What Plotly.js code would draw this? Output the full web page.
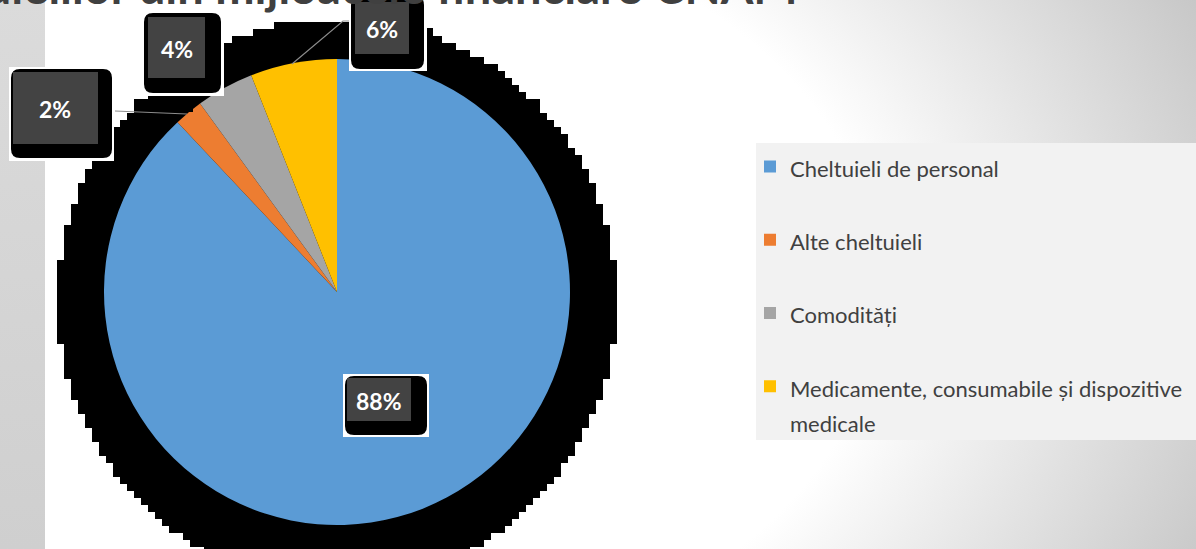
<!DOCTYPE html>
<html><head><meta charset="utf-8">
<script src="https://cdn.plot.ly/plotly-3.0.1.min.js"></script>
<style>
html,body{margin:0;padding:0;}
body{width:1196px;height:549px;overflow:hidden;
background: linear-gradient(to bottom,#dbdbdb,#cfcfcf) 0 0/45px 100% no-repeat,
 radial-gradient(ellipse 1000px 700px at 330px 290px, #ffffff 55%, #c2c2c2 100%);}
#chart{width:1196px;height:549px;}
</style></head><body><div id="chart"></div>
<script>
// ---- data ----
const categories = ['Cheltuieli de personal', 'Alte cheltuieli', 'Comodități', 'Medicamente, consumabile și dispozitive medicale'];
const values = [88, 2, 4, 6];
const colors = ['#5B9BD5', '#ED7D31', '#A5A5A5', '#FFC000'];
const titleText = 'Structura cheltuielilor din mijloacele financiare CNAM';

// ---- helpers (layout only) ----
const W = 1196, H = 549;
const X = p => p / W, Y = p => 1 - p / H;

function wrap(s, n) {
  if (s.length <= n) return [s];
  const cut = s.lastIndexOf(' ', n);
  return [s.slice(0, cut), s.slice(cut + 1)];
}
const legendLabels = categories.map(c => {
  const lines = wrap(c, 40).map(l => '<span style="font-size:22px">' + l + '</span>');
  if (lines.length < 2) lines.push(' ');
  return lines.join('<br>');
});

function rect(b, fill, layer) {
  return {type: 'rect', xref: 'paper', yref: 'paper', x0: X(b[0]), y0: Y(b[1]), x1: X(b[2]), y1: Y(b[3]),
    fillcolor: fill, line: {width: 0}, layer: layer || 'above'};
}
function rrect(b, r, fill) {
  const [x0, y0, x1, y1] = b;
  const P = (x, y) => X(x) + ',' + Y(y);
  const d = 'M' + P(x0 + r, y0) + ' L' + P(x1 - r, y0) + ' Q' + P(x1, y0) + ' ' + P(x1, y0 + r) +
    ' L' + P(x1, y1 - r) + ' Q' + P(x1, y1) + ' ' + P(x1 - r, y1) +
    ' L' + P(x0 + r, y1) + ' Q' + P(x0, y1) + ' ' + P(x0, y1 - r) +
    ' L' + P(x0, y0 + r) + ' Q' + P(x0, y0) + ' ' + P(x0 + r, y0) + ' Z';
  return {type: 'path', xref: 'paper', yref: 'paper', path: d, fillcolor: fill, line: {width: 0}, layer: 'above'};
}
function stairShadow(cx, cy, r, s) {
  const right = [], left = [];
  for (let y = cy - r; y < cy + r; y += s) {
    const ya = y, yb = y + s;
    const near = (ya <= cy && yb >= cy) ? 0 : Math.min(Math.abs(ya - cy), Math.abs(yb - cy));
    const hw = Math.round(Math.sqrt(Math.max(0, r * r - near * near)) / s) * s;
    right.push([cx + hw, ya], [cx + hw, yb]);
    left.push([cx - hw, ya], [cx - hw, yb]);
  }
  const pts = right.concat(left.reverse());
  const d = 'M' + pts.map(p => X(p[0]) + ',' + Y(p[1])).join(' L') + ' Z';
  return {type: 'path', xref: 'paper', yref: 'paper', path: d, fillcolor: '#000000', line: {width: 0}, layer: 'below'};
}

// label boxes (88%, 2%, 4%, 6%) : white frame, black rounded shadow, dark face
const boxes = [
  {w: [343, 374, 429, 437], k: [345, 376, 427, 435], g: [347, 378, 411, 421]},
  {w: [9, 67, 114, 161], k: [11, 69, 112, 158], g: [13, 72, 98, 144]},
  {w: [142, 11, 224, 96], k: [144, 13, 221, 93], g: [148, 17, 205, 78]},
  {w: [349, -4, 427, 71], k: [351, -4, 424, 69], g: [355, 2, 409, 54]}
];

const shapes = [];
shapes.push(rect([756, 143, 1196, 440], '#f2f2f2', 'below'));
shapes.push(stairShadow(337, 301, 279, 7));
shapes.push(rect([426, 28, 433, 42], '#000000', 'below'));
// leader lines
shapes.push({type: 'path', xref: 'paper', yref: 'paper', path: 'M' + X(115) + ',' + Y(111) + ' L' + X(187) + ',' + Y(114),
  line: {color: '#8c8c8c', width: 1.2}, layer: 'above'});
shapes.push({type: 'path', xref: 'paper', yref: 'paper', path: 'M' + X(292) + ',' + Y(64) + ' L' + X(343) + ',' + Y(21) + ' L' + X(349) + ',' + Y(21),
  line: {color: '#8c8c8c', width: 1.2}, layer: 'above'});
// stray shadow pieces
shapes.push(rect([170, 95, 193, 112], '#000000'));
shapes.push(rect([139, 117, 143, 131], '#000000'));
shapes.push(rect([113, 128, 118, 160], '#000000'));

const total = values.reduce((a, b) => a + b, 0);
const annotations = [];
// title (top part lies above the page, as in the reference)
annotations.push({
  xref: 'paper', yref: 'paper', x: X(800), y: Y(16.5), xanchor: 'right', yanchor: 'bottom',
  showarrow: false, text: titleText,
  font: {family: 'Lato', size: 47, color: '#404040', weight: 'bold'}
});
boxes.forEach((b, i) => {
  shapes.push(rect(b.w, '#ffffff'));
  shapes.push(rrect(b.k, 9, '#000000'));
  shapes.push(rect(b.g, '#434343'));
  annotations.push({
    xref: 'paper', yref: 'paper',
    x: X((b.g[0] + b.g[2]) / 2), y: Y((b.g[1] + b.g[3]) / 2 + 1),
    xanchor: 'center', yanchor: 'middle', showarrow: false,
    text: Math.round(values[i] / total * 100) + '%',
    font: {family: 'Lato', size: 23, color: '#ffffff', weight: 'bold'}
  });
});

const data = [{
  type: 'pie',
  labels: legendLabels,
  values: values,
  marker: {colors: colors, line: {width: 0}},
  sort: false,
  direction: 'clockwise',
  rotation: 0,
  textinfo: 'none',
  hoverinfo: 'percent',
  domain: {x: [X(104), X(570)], y: [Y(525), Y(59)]}
}];

const layout = {
  width: W, height: H,
  margin: {l: 0, r: 0, t: 0, b: 0, pad: 0},
  paper_bgcolor: 'rgba(0,0,0,0)',
  plot_bgcolor: 'rgba(0,0,0,0)',
  showlegend: true,
  legend: {x: X(750), xanchor: 'left', y: Y(142.5), yanchor: 'top', bgcolor: 'rgba(0,0,0,0)', borderwidth: 0,
    font: {family: 'Lato', size: 27, color: '#404040'}, valign: 'top', traceorder: 'normal'},
  shapes: shapes,
  annotations: annotations
};

Plotly.newPlot('chart', data, layout, {displayModeBar: false, staticPlot: true});
</script>
</body></html>
